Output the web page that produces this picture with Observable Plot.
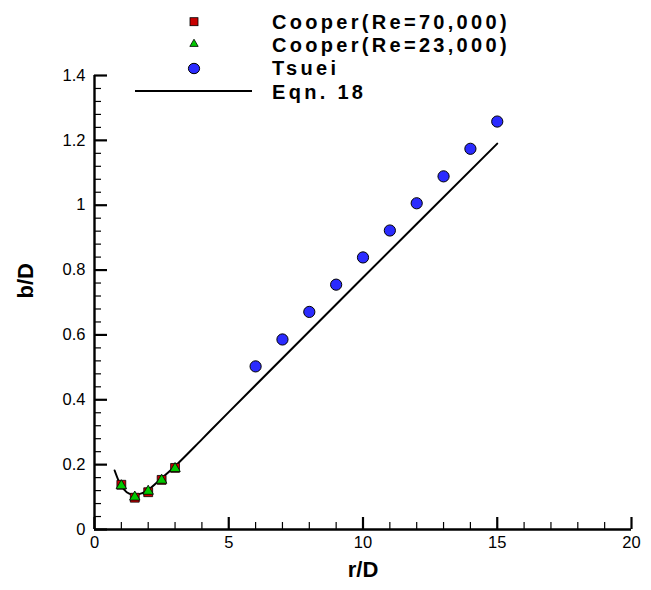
<!DOCTYPE html>
<html><head><meta charset="utf-8">
<script src="https://cdn.jsdelivr.net/npm/d3@7"></script>
<script src="https://cdn.jsdelivr.net/npm/@observablehq/plot@0.6"></script>
<style>
body{margin:0;background:#fff;}
#wrap{position:relative;width:651px;height:590px;font-family:"Liberation Sans",Arial,Helvetica,sans-serif;}
#legend{position:absolute;left:0;top:0;pointer-events:none;}
</style></head><body><div id="wrap"></div>
<script>
// ---- data ----
const cooperX   = [1.0, 1.5, 2.0, 2.5, 3.0];
const cooper70Y = [0.138, 0.098, 0.115, 0.153, 0.190];
const cooper23Y = [0.135, 0.100, 0.118, 0.152, 0.188];
const tsueiX = [6, 7, 8, 9, 10, 11, 12, 13, 14, 15];
const tsueiY = [0.503, 0.586, 0.671, 0.755, 0.839, 0.922, 1.006, 1.089, 1.174, 1.258];
const eqnX = [0.75, 0.9, 1.0, 1.2, 1.4, 1.6, 1.8, 2.0, 2.5, 3.0, 4.0, 5.0, 10.0, 15.0];
const eqnY = [0.182, 0.150, 0.134, 0.115, 0.108, 0.108, 0.113, 0.122, 0.158, 0.195, 0.278, 0.362, 0.777, 1.19];
const xMajor = [0, 5, 10, 15, 20];
const yMajor = [0, 0.2, 0.4, 0.6, 0.8, 1.0, 1.2, 1.4];
const xMinor = d3.range(0, 21).filter(v => v % 5 !== 0);
const yMinor = d3.range(0, 36).filter(i => i % 5 !== 0).map(i => i * 0.04);
const seriesNames = ["Cooper(Re=70,000)", "Cooper(Re=23,000)", "Tsuei", "Eqn. 18"];
const xLabel = "r/D", yLabel = "b/D";

const cooper70 = cooperX.map((x, i) => ({x, y: cooper70Y[i]}));
const cooper23 = cooperX.map((x, i) => ({x, y: cooper23Y[i]}));
const tsuei = tsueiX.map((x, i) => ({x, y: tsueiY[i]}));
const eqn = eqnX.map((x, i) => ({x, y: eqnY[i]}));

const W = 651, H = 590, mL = 94, mR = 20, mT = 75, mB = 61;
const plotW = W - mL - mR, plotH = H - mT - mB;
const font = "Liberation Sans, Arial, Helvetica, sans-serif";

const chart = Plot.plot({
  width: W, height: H,
  marginLeft: mL, marginRight: mR, marginTop: mT, marginBottom: mB,
  style: {fontFamily: font, background: "white", overflow: "visible", color: "black"},
  x: {domain: [0, 20]},
  y: {domain: [0, 1.4]},
  marks: [
    Plot.axisX({ticks: xMajor, tickSize: 0, tickPadding: 7, fontSize: 16.5, label: null, tickFormat: d => String(d)}),
    Plot.axisY({ticks: yMajor, tickSize: 0, tickPadding: 9, fontSize: 16.5, label: null, tickFormat: d => String(+(+d).toFixed(1))}),
    Plot.tickX(xMinor, {x: d => d, insetTop: plotH - 7, stroke: "black", strokeWidth: 1.2}),
    Plot.tickX(xMajor, {x: d => d, insetTop: plotH - 12, stroke: "black", strokeWidth: 2.2}),
    Plot.tickY(yMinor, {y: d => d, insetRight: plotW - 7, stroke: "black", strokeWidth: 1.2}),
    Plot.tickY(yMajor, {y: d => d, insetRight: plotW - 13, stroke: "black", strokeWidth: 2.2}),
    Plot.ruleX([0], {stroke: "black", strokeWidth: 2.4}),
    Plot.ruleY([0], {stroke: "black", strokeWidth: 2.4}),
    Plot.line(eqn, {x: "x", y: "y", stroke: "black", strokeWidth: 2, curve: "catmull-rom"}),
    Plot.dot(tsuei, {x: "x", y: "y", r: 5.6, fill: "#2b2bff", stroke: "black", strokeWidth: 1}),
    Plot.dot(cooper70, {x: "x", y: "y", symbol: "square", r: 5, fill: "#c80000", stroke: "black", strokeWidth: 0.8}),
    Plot.dot(cooper23, {x: "x", y: "y", symbol: "triangle", r: 3.9, fill: "#00c800", stroke: "black", strokeWidth: 0.8}),
    Plot.text([xLabel], {text: d => d, frameAnchor: "bottom", dy: 47, fontSize: 22, fontWeight: "bold"}),
    Plot.text([yLabel], {text: d => d, frameAnchor: "left", dx: -69, dy: -4, rotate: -90, fontSize: 22, fontWeight: "bold"})
  ]
});

const wrap = document.getElementById("wrap");
wrap.appendChild(chart);

// ---- legend overlay ----
const leg = d3.select(wrap).append("svg").attr("id", "legend")
  .attr("width", W).attr("height", 110)
  .style("font-family", font);
const symX = 194, textX = 272;
const rows = [
  {name: seriesNames[0], sy: 21.7, base: 28.5, kind: "square"},
  {name: seriesNames[1], sy: 44, base: 51.5, kind: "triangle"},
  {name: seriesNames[2], sy: 68.5, base: 75, kind: "circle"},
  {name: seriesNames[3], sy: 91, base: 98.5, kind: "line"}
];
rows.forEach(r => {
  if (r.kind === "square") {
    leg.append("rect").attr("x", symX - 4).attr("y", r.sy - 4).attr("width", 8).attr("height", 8)
      .attr("fill", "#c80000").attr("stroke", "black").attr("stroke-width", 0.8);
  } else if (r.kind === "triangle") {
    leg.append("path").attr("d", d3.symbol(d3.symbolTriangle, 30)()).attr("transform", `translate(${symX},${r.sy})`)
      .attr("fill", "#00c800").attr("stroke", "black").attr("stroke-width", 0.8);
  } else if (r.kind === "circle") {
    leg.append("ellipse").attr("cx", symX).attr("cy", r.sy).attr("rx", 5.6).attr("ry", 5.2)
      .attr("fill", "#2b2bff").attr("stroke", "black").attr("stroke-width", 1);
  } else {
    leg.append("line").attr("x1", 135).attr("x2", 252).attr("y1", r.sy).attr("y2", r.sy)
      .attr("stroke", "black").attr("stroke-width", 2);
  }
  leg.append("text").attr("x", textX).attr("y", r.base).text(r.name)
    .attr("font-size", 20).attr("font-weight", "bold").attr("letter-spacing", 3.3).attr("fill", "black");
});
</script></body></html>
